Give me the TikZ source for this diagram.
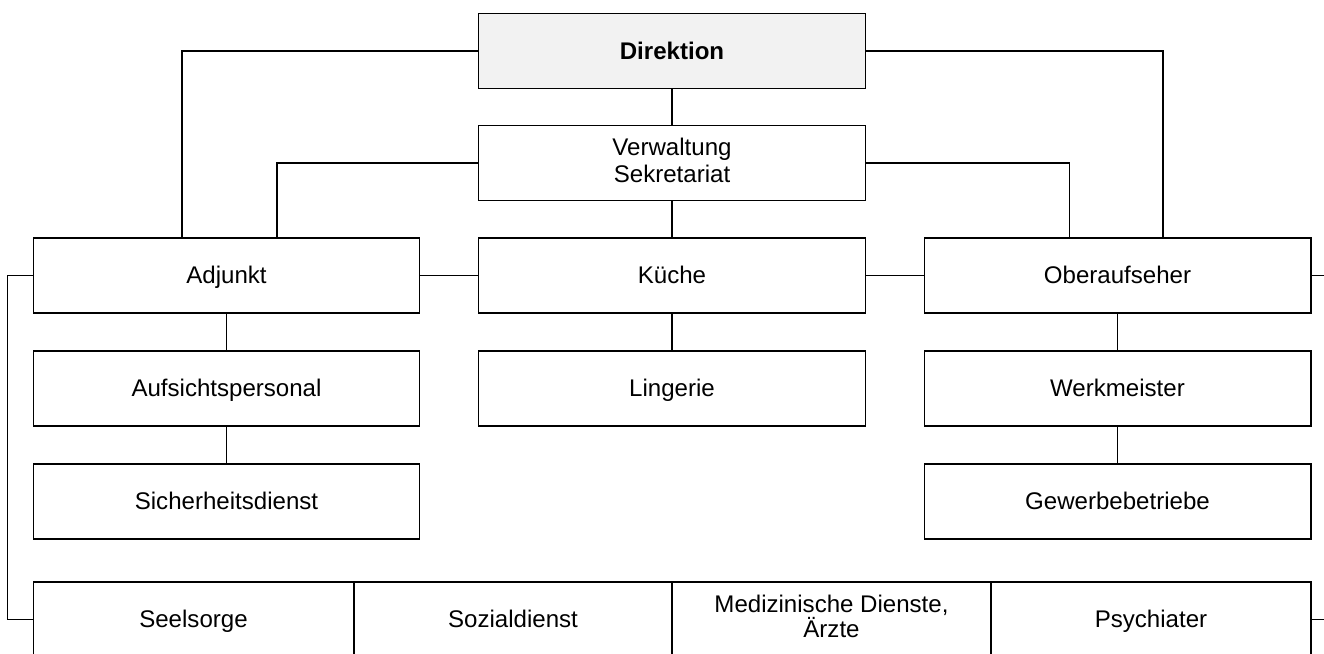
\documentclass[tikz,border=0pt]{standalone}
\usepackage{fontspec}
\setmainfont{Liberation Sans}
\definecolor{headgray}{HTML}{F2F2F2}
\def\rowstrut{\rule[-3.2pt]{0pt}{15.6pt}}
\tikzset{
    unit/.style={draw, line width=0.6pt, minimum width=7.74cm, minimum height=1.5cm,
        align=center, inner sep=0pt, font=\fontsize{13.7}{15.6}\selectfont,
        execute at begin node=\rowstrut},
    service/.style={unit, minimum width=6.38cm, font=\fontsize{13.7}{14.2}\selectfont},
    link/.style={line width=0.6pt}
}

\begin{document}
\lineskiplimit=-20pt
\begin{tikzpicture}[x=0.02cm, y=-0.02cm]
    \clip (0,0) rectangle (1324,653);
    % top
    \node[unit, fill=headgray, font=\fontsize{13.7}{15.6}\selectfont\bfseries] (direktion) at (672,51) {Direktion};
    \node[unit] (verwaltung) at (672,163) {Verwaltung\\\rowstrut Sekretariat};
    % three columns
    \node[unit] (adjunkt) at (226.5,275.5) {Adjunkt};
    \node[unit] (kueche) at (672,275.5) {Küche};
    \node[unit] (oberaufseher) at (1117.5,275.5) {Oberaufseher};
    \node[unit] (aufsicht) at (226.5,388.5) {Aufsichtspersonal};
    \node[unit] (lingerie) at (672,388.5) {Lingerie};
    \node[unit] (werkmeister) at (1117.5,388.5) {Werkmeister};
    \node[unit] (sicherheit) at (226.5,501.5) {Sicherheitsdienst};
    \node[unit] (gewerbe) at (1117.5,501.5) {Gewerbebetriebe};
    % services
    \node[service, minimum width=6.42cm] (seelsorge) at (193.5,619.5) {Seelsorge};
    \node[service, minimum width=6.36cm] (sozial) at (513,619.5) {Sozialdienst};
    \node[service, minimum width=6.38cm] (medizin) at (831.5,619.5) {Medizinische Dienste,\\\rowstrut Ärzte};
    \node[service, minimum width=6.4cm] (psychiater) at (1151,619.5) {Psychiater};

    \draw[link] (direktion) -- (verwaltung);
    \draw[link] (verwaltung) -- (kueche);
    \draw[link] (direktion.west) -| ([xshift=-0.89cm]adjunkt.north);
    \draw[link] (direktion.east) -| ([xshift=0.91cm]oberaufseher.north);
    \draw[link] (verwaltung.west) -| ([xshift=1.01cm]adjunkt.north);
    \draw[link] (verwaltung.east) -| ([xshift=-0.955cm]oberaufseher.north);
    \draw[link] (adjunkt) -- (kueche);
    \draw[link] (kueche) -- (oberaufseher);
    \draw[link] (adjunkt) -- (aufsicht);
    \draw[link] (aufsicht) -- (sicherheit);
    \draw[link] (kueche) -- (lingerie);
    \draw[link] (oberaufseher) -- (werkmeister);
    \draw[link] (werkmeister) -- (gewerbe);
    \draw[link] (adjunkt.west) -- ++(-25,0) |- (seelsorge.west);
    \draw[link] (oberaufseher.east) -- ++(20,0);
    \draw[link] (psychiater.east) -- ++(20,0);
\end{tikzpicture}
\end{document}
